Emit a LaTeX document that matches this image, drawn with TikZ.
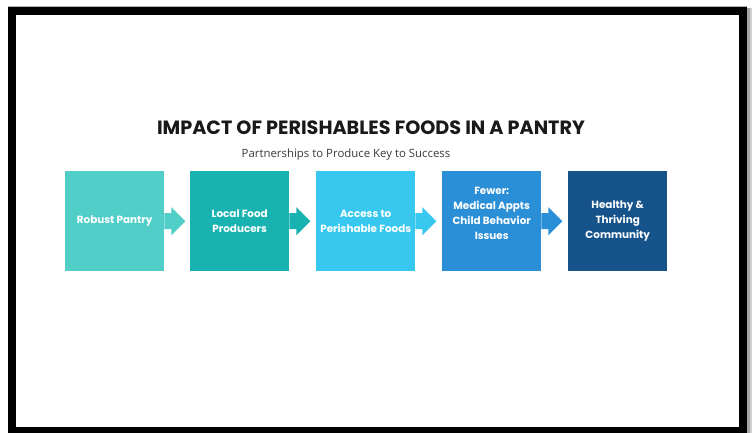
\documentclass[tikz,border=0pt]{standalone}
\usepackage{fontspec}
\setmainfont{Poppins}
\newfontfamily\subfont{Open Sans}
\usetikzlibrary{positioning}
\definecolor{cA}{HTML}{52CEC9}
\definecolor{cB}{HTML}{18B3B1}
\definecolor{cC}{HTML}{38C8EF}
\definecolor{cD}{HTML}{2B8FD7}
\definecolor{cE}{HTML}{15538A}
\definecolor{subgray}{HTML}{3A3A3A}
\tikzset{
  boxtext/.style={text=white, font=\bfseries\fontsize{10.4}{15}\selectfont, align=center},
  stepbox/.style={rectangle, minimum width=99pt, minimum height=100pt, inner sep=0pt,
    boxtext, anchor=north west}
}
\begin{document}
\begin{tikzpicture}[x=1pt,y=-1pt]
\useasboundingbox (0,0) rectangle (752,433);
\fill[white] (0,0) rectangle (752,433);
% shadow
\fill[black!35] (747,8) rectangle (749.5,433);
\fill[black!18] (749.5,8) rectangle (752,433);
\fill[black!30] (8,6) rectangle (747,7);
% frame
\draw[line width=8pt] (12,11) -- (743,11) -- (743,431) -- (12,431) -- cycle;
% title
\node[font=\bfseries\fontsize{19.2}{22}\selectfont, text=black!90] (title) at (371,128) {IMPACT OF PERISHABLES FOODS IN A PANTRY};
\node[font=\subfont\fontsize{11.4}{13}\selectfont, text=subgray] (sub) at (346,155) {Partnerships to Produce Key to Success};
% boxes
\node[stepbox, fill=cA] (b1) at (65,171) {Robust Pantry};
\node[stepbox, fill=cB] (b2) at (190,171) {Local Food\\Producers};
\node[stepbox, fill=cC] (b3) at (316,171) {Access to\\Perishable Foods};
\node[stepbox, fill=cD] (b4) at (442,171) {};
\node[boxtext] (b4t) at ([yshift=7.5pt]b4.center) {Fewer:\\Medical Appts\\Child Behavior\\Issues};
\node[stepbox, fill=cE] (b5) at (568,171) {Healthy \&\\Thriving\\Community};
% arrows
\foreach \a/\c in {b1/cA,b2/cB,b3/cC,b4/cD}{
  \fill[\c] ([yshift=8pt]\a.east) -- ++(7,0) -- ++(0,-6) -- ++(14,14) -- ++(-14,14) -- ++(0,-6) -- ++(-7,0) -- cycle;
}
\end{tikzpicture}
\end{document}
